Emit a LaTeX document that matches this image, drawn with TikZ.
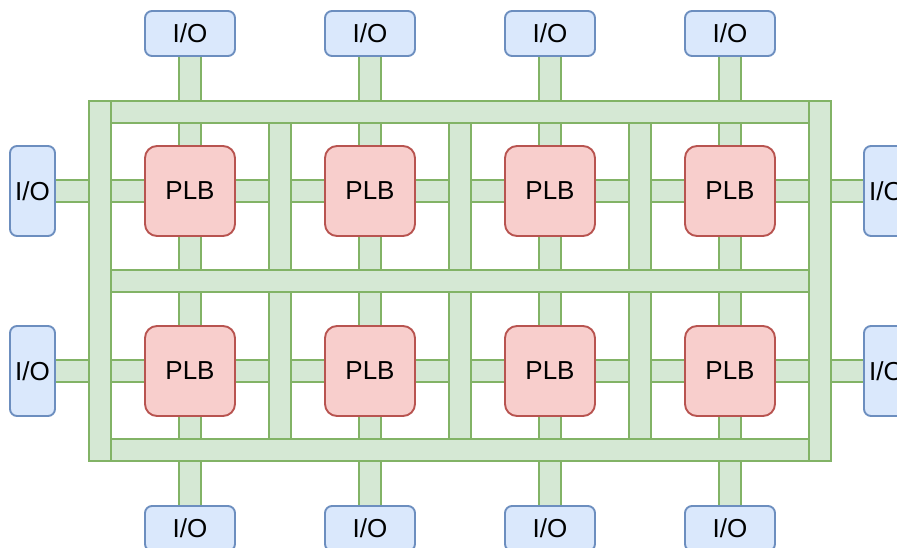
\documentclass[tikz,border=0pt]{standalone}
\usepackage{fontspec}
\setmainfont{Liberation Sans}
\definecolor{iofill}{RGB}{218,232,252}
\definecolor{ioline}{RGB}{108,142,191}
\definecolor{plbfill}{RGB}{248,206,204}
\definecolor{plbline}{RGB}{184,84,80}
\definecolor{busfill}{RGB}{213,232,212}
\definecolor{busline}{RGB}{130,179,102}

\begin{document}
\begin{tikzpicture}[x=1pt, y=-1pt, line width=1.9pt,
    io/.style={draw=ioline, fill=iofill, rounded corners=7pt, inner sep=0pt, font=\fontsize{26}{30}\selectfont},
    plb/.style={draw=plbline, fill=plbfill, rounded corners=12pt, minimum size=90pt, inner sep=0pt, font=\fontsize{26}{30}\selectfont},
    bus/.style={draw=busline, fill=busfill, inner sep=0pt},
    wire/.style={draw=busline, double=busfill, double distance=20pt}]
    \useasboundingbox (0,0) rectangle (897,547);
    % routing channels
    \node[bus, minimum width=22pt, minimum height=360pt] (lbar) at (100,281) {};
    \node[bus, minimum width=22pt, minimum height=360pt] (rbar) at (820,281) {};
    \foreach \i/\y in {1/112, 2/281, 3/450}
        \node[bus, minimum width=698pt, minimum height=22pt] (hbar\i) at (460,\y) {};
    \foreach \r/\y in {1/196.5, 2/365.5}
        \foreach \c/\x in {1/280, 2/460, 3/640}
            \node[bus, minimum width=22pt, minimum height=147pt] (vbar\r\c) at (\x,\y) {};
    % logic blocks
    \foreach \r/\y in {1/191, 2/371}
        \foreach \c/\x in {1/190, 2/370, 3/550, 4/730}
            \node[plb] (plb\r\c) at (\x,\y) {PLB};
    % pads
    \foreach \c/\x in {1/190, 2/370, 3/550, 4/730} {
        \node[io, minimum width=90pt, minimum height=45pt] (iotop\c) at (\x,33.5) {I/O};
        \node[io, minimum width=90pt, minimum height=45pt] (iobot\c) at (\x,528.5) {I/O};
    }
    \foreach \r/\y in {1/191, 2/371} {
        \node[io, minimum width=45pt, minimum height=90pt] (ioleft\r) at (32.5,\y) {I/O};
        \node[io, minimum width=45pt, minimum height=90pt] (ioright\r) at (886.5,\y) {I/O};
    }
    % vertical links
    \foreach \c in {1,...,4} {
        \draw[wire] (iotop\c.south) -- (iotop\c.south |- hbar1.north);
        \draw[wire] (iobot\c.north) -- (iobot\c.north |- hbar3.south);
        \draw[wire] (plb1\c.north) -- (plb1\c.north |- hbar1.south);
        \draw[wire] (plb1\c.south) -- (plb1\c.south |- hbar2.north);
        \draw[wire] (plb2\c.north) -- (plb2\c.north |- hbar2.south);
        \draw[wire] (plb2\c.south) -- (plb2\c.south |- hbar3.north);
    }
    % horizontal links
    \foreach \r in {1,2} {
        \draw[wire] (ioleft\r.east) -- (ioleft\r.east -| lbar.west);
        \draw[wire] (ioright\r.west) -- (ioright\r.west -| rbar.east);
        \draw[wire] (plb\r1.west) -- (plb\r1.west -| lbar.east);
        \draw[wire] (plb\r4.east) -- (plb\r4.east -| rbar.west);
        \foreach \c/\n in {1/2, 2/3, 3/4} {
            \draw[wire] (plb\r\c.east) -- (plb\r\c.east -| vbar\r\c.west);
            \draw[wire] (plb\r\n.west) -- (plb\r\n.west -| vbar\r\c.east);
        }
    }
\end{tikzpicture}
\end{document}
